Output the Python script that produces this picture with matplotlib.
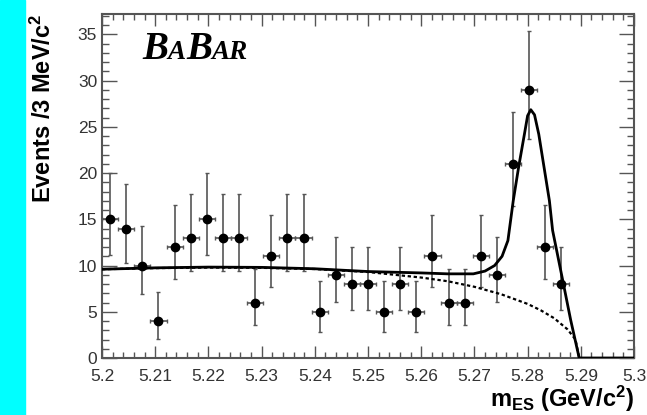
import numpy as np
import matplotlib
matplotlib.use('Agg')
import matplotlib.pyplot as plt
from matplotlib.ticker import MultipleLocator
from matplotlib.offsetbox import TextArea, HPacker, AnchoredOffsetbox
from matplotlib.patches import Rectangle

plt.rcParams['font.family'] = 'Liberation Sans'
plt.rcParams['mathtext.fontset'] = 'custom'
plt.rcParams['mathtext.rm'] = 'Liberation Sans:bold'
plt.rcParams['mathtext.it'] = 'Liberation Sans:bold'
plt.rcParams['mathtext.bf'] = 'Liberation Sans:bold'

# ---- data: m_ES bins (33 bins of 3.03 MeV from 5.2 to 5.3), only filled ones
mes = [5.20152, 5.20455, 5.20758, 5.21061, 5.21364, 5.21667, 5.21970,
       5.22273, 5.22576, 5.22879, 5.23182, 5.23485, 5.23788, 5.24091,
       5.24394, 5.24697, 5.25000, 5.25303, 5.25606, 5.25909, 5.26212,
       5.26515, 5.26818, 5.27121, 5.27424, 5.27727, 5.28030, 5.28333,
       5.28636]
counts = [15, 14, 10, 4, 12, 13, 15,
          13, 13, 6, 11, 13, 13, 5,
          9, 8, 8, 5, 8, 5, 11,
          6, 6, 11, 9, 21, 29, 12,
          8]
# asymmetric (poisson) error bars
err_lo = [3.83, 3.70, 3.11, 1.91, 3.41, 3.56, 3.83,
          3.56, 3.56, 2.38, 3.27, 3.56, 3.56, 2.16,
          2.94, 2.77, 2.77, 2.16, 2.77, 2.16, 3.27,
          2.38, 2.38, 3.27, 2.94, 4.55, 5.35, 3.41,
          2.77]
err_hi = [4.96, 4.83, 4.27, 3.16, 4.56, 4.70, 4.96,
          4.70, 4.70, 3.58, 4.42, 4.70, 4.70, 3.38,
          4.11, 3.95, 3.95, 3.38, 3.95, 3.38, 4.42,
          3.58, 3.58, 4.42, 4.11, 5.65, 6.40, 4.56,
          3.95]
bin_width = 0.1 / 33

# fit curves (total and background)
fit_m = [5.200, 5.210, 5.220, 5.230, 5.240, 5.250, 5.260, 5.265, 5.2698,
         5.2720, 5.2738, 5.2752, 5.2763, 5.2773, 5.2783, 5.2794, 5.2800,
         5.2806, 5.2813, 5.2821, 5.2831, 5.2841, 5.2847, 5.2866, 5.2881,
         5.2897, 5.300]
fit_tot = [9.6, 9.75, 9.83, 9.8, 9.65, 9.35, 9.2, 9.1, 9.1,
           9.4, 10.0, 11.0, 12.7, 17.0, 20.6, 24.2, 26.2,
           26.85, 26.3, 24.2, 20.6, 17.0, 13.8, 8.4, 4.1,
           0.0, 0.0]
bkg_m = [5.200, 5.210, 5.220, 5.230, 5.240, 5.250, 5.260, 5.265, 5.270,
         5.275, 5.280, 5.2825, 5.285, 5.2875, 5.289, 5.2897]
bkg = [9.6, 9.72, 9.78, 9.75, 9.62, 9.3, 8.7, 8.3, 7.7,
       6.9, 5.85, 5.15, 4.3, 3.1, 2.0, 0.0]

# ---- figure
fig = plt.figure(figsize=(6.47, 4.15), dpi=100)
fig.patches.append(Rectangle((0, 0), 25 / 647, 1, transform=fig.transFigure,
                             color='#00ffff', zorder=0))
ax = fig.add_axes([102 / 647, 57 / 415, 532 / 647, 344 / 415])

ax.errorbar(mes, counts, yerr=[err_lo, err_hi], xerr=bin_width / 2,
            fmt='o', ms=6, color='black', ecolor='#555555',
            elinewidth=1.2, capsize=1.5, capthick=1.0, zorder=3)
ax.plot(fit_m, fit_tot, color='black', lw=2.0, zorder=4)
ax.plot(bkg_m, bkg, color='black', lw=1.6, ls=(0, (1.5, 1.2)), zorder=4)

ax.set_xlim(5.2, 5.3)
ax.set_ylim(0, 37.2)
ax.xaxis.set_major_locator(MultipleLocator(0.01))
ax.xaxis.set_minor_locator(MultipleLocator(0.002))
ax.yaxis.set_major_locator(MultipleLocator(5))
ax.yaxis.set_minor_locator(MultipleLocator(1))
ax.set_xticks(np.arange(5.2, 5.3001, 0.01))
ax.set_xticklabels(['5.2', '5.21', '5.22', '5.23', '5.24', '5.25',
                    '5.26', '5.27', '5.28', '5.29', '5.3'])

for s in ax.spines.values():
    s.set_color('#555555')
    s.set_linewidth(1.5)
ax.tick_params(which='both', direction='in', top=True, right=True,
               color='#555555', width=1.0, labelsize=12.5,
               labelcolor='#333333')
ax.tick_params(axis='y', which='major', length=11, pad=3.5)
ax.tick_params(axis='y', which='minor', length=5)
ax.tick_params(axis='x', which='major', length=8.5, pad=8)
ax.tick_params(axis='x', which='minor', length=4.5)

fig.text(43 / 647, 1 - 14 / 415, r'Events /3 MeV/c$^{2}$', rotation=90,
         ha='center', va='top', fontsize=17, fontweight='bold')
fig.text(634 / 647, 8 / 415, r'm$_{\mathbf{ES}}$ (GeV/c$^{\mathbf{2}}$)',
         ha='right', va='baseline', fontsize=17, fontweight='bold')

big = dict(family='Liberation Serif', weight='bold', style='italic', size=28)
small = dict(family='Liberation Serif', weight='bold', style='italic', size=19.5)
logo = HPacker(children=[TextArea('B', textprops=big),
                         TextArea('A', textprops=small),
                         TextArea('B', textprops=big),
                         TextArea('AR', textprops=small)],
               align='baseline', pad=0, sep=0)
anch = AnchoredOffsetbox(loc='upper left', child=logo, pad=0, frameon=False,
                         bbox_to_anchor=(0.075, 0.95),
                         bbox_transform=ax.transAxes, borderpad=0)
ax.add_artist(anch)

fig.savefig('out.png', dpi=100)
